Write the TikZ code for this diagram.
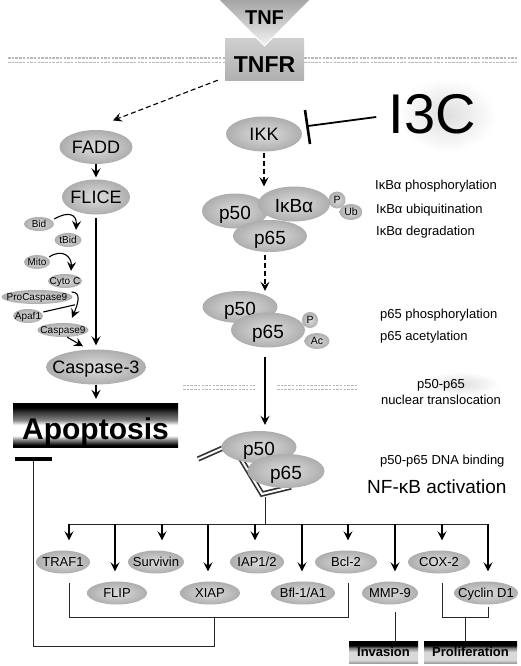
\documentclass[tikz,border=0pt]{standalone}
\usepackage{fontspec}
\setmainfont{Liberation Sans}
\usetikzlibrary{shapes.geometric,arrows.meta,calc}
\pgfdeclareradialshading{ellsh}{\pgfpoint{0bp}{0bp}}{color(0bp)=(gray!28); color(8bp)=(gray!38); color(25bp)=(gray!64); color(50bp)=(gray!64)}
\pgfdeclareverticalshading{apop}{100bp}{color(0bp)=(black); color(27bp)=(black); color(33bp)=(gray); color(38bp)=(white); color(50bp)=(white); color(56bp)=(gray); color(65bp)=(black!80); color(70bp)=(black); color(100bp)=(black)}
\pgfdeclareverticalshading{bandsh}{100bp}{color(0bp)=(gray!75); color(25bp)=(gray!75); color(32bp)=(gray!30); color(50bp)=(white!85!black); color(59bp)=(gray); color(65bp)=(black); color(100bp)=(black)}
\pgfdeclareradialshading{halo}{\pgfpoint{0bp}{0bp}}{color(0bp)=(gray!26); color(25bp)=(white); color(50bp)=(white)}
\begin{document}
\begin{tikzpicture}[x=1pt,y=-1pt,
  ell/.style={ellipse, shade, shading=ellsh, inner sep=0pt},
  bigtext/.style={font=\fontsize{18}{20}\selectfont, inner sep=0pt, text height=13pt, text depth=0pt},
  cxtext/.style={font=\fontsize{19}{21}\selectfont, inner sep=0pt, text height=13.6pt, text depth=0pt, yshift=-2pt},
  smtext/.style={font=\fontsize{10}{11}\selectfont, inner sep=0pt, text height=7.2pt, text depth=0pt},
  modtext/.style={font=\fontsize{10.5}{12}\selectfont, inner sep=0pt, text height=7.5pt, text depth=0pt},
  gentext/.style={font=\fontsize{13}{15}\selectfont, inner sep=0pt, text height=9.3pt, text depth=0pt},
  bigell/.style={ell, label={[bigtext]center:#1}},
  cxell/.style={ell, label={[cxtext]center:#1}},
  smell/.style={ell, minimum height=14pt, label={[smtext]center:#1}},
  modell/.style={ell, label={[modtext]center:#1}},
  genell/.style={ell, minimum height=23pt, label={[gentext]center:#1}},
  lab/.style={font=\fontsize{13}{15}\selectfont, anchor=west, inner sep=0pt},
  arr/.style={draw=black, line width=1.1pt, -{Stealth[length=9pt,width=9pt,inset=3.5pt]}},
  darr/.style={arr, dash pattern=on 5pt off 3pt},
  ln/.style={draw=black!85, line width=1pt},
  memb/.style={draw=gray!55, line width=1.5pt, dash pattern=on 2.5pt off 1.2pt},
  bar/.style={rectangle, shade, shading=apop, inner sep=0pt},
  band/.style={rectangle, shade, shading=bandsh, inner sep=0pt},
]
\useasboundingbox (0,0) rectangle (520,666);

% membranes
\foreach \a/\b in {8/225, 304/518} {
  \draw[memb] (\a,58) -- (\b,58);
  \draw[memb] (\a,62.5) -- (\b,62.5);
}
\foreach \a/\b in {183/255, 277/358} {
  \draw[memb] (\a,385.5) -- (\b,385.5);
  \draw[memb] (\a,389.5) -- (\b,389.5);
}

% halos
\shade[shading=halo] (398,78) rectangle (496,152);
\shade[shading=halo] (420,372) rectangle (500,396);

% TNFR and TNF
\node[rectangle, top color=gray!38, bottom color=gray!62, minimum width=79pt, minimum height=42pt, inner sep=0pt] (tnfr) at (264.5,60) {};
\node[font=\bfseries\fontsize{23}{25}\selectfont, inner sep=0pt, text height=16.5pt, text depth=0pt] (tnfrtxt) at (264.5,64) {TNFR};
\shadedraw[top color=gray!72, bottom color=gray!10, draw=white, line width=1pt] (218,-1) -- (311,-1) -- (264.5,46) -- cycle;
\node[font=\bfseries\fontsize{20}{22}\selectfont, inner sep=0pt, text height=14.3pt, text depth=0pt] (tnf) at (264.5,17) {TNF};

% IKK and I3C
\node[bigell=IKK, minimum width=76pt, minimum height=35pt] (ikk) at (264,134) {};
\node[font=\fontsize{56}{60}\selectfont, inner sep=0pt, text height=40pt, text depth=0pt] (i3c) at (432,114) {I3C};
\coordinate (inh) at (308,126);
\draw[line width=1.8pt] ($(i3c.west)+(-12,3)$) -- (inh);
\draw[line width=2.6pt] ($(inh)+(-3,-16)$) -- ($(inh)+(2,18)$);

% left cascade
\node[bigell=FADD, minimum width=73pt, minimum height=34pt] (fadd) at (96,147) {};
\node[bigell=FLICE, minimum width=68pt, minimum height=35pt] (flice) at (96,197) {};
\node[smell=Bid, minimum width=30pt] (bid) at (39,224) {};
\node[smell=tBid, minimum width=27pt] (tbid) at (68,240) {};
\node[smell=Mito, minimum width=26pt] (mito) at (37,262) {};
\node[smell=Cyto C, minimum width=34pt] (cytoc) at (65,281) {};
\node[smell=ProCaspase9, minimum width=71pt] (procasp) at (37,297) {};
\node[smell=Apaf1, minimum width=30pt] (apaf) at (28,316) {};
\node[smell=Caspase9, minimum width=51pt] (casp9) at (63,330) {};
\node[bigell=Caspase-3, minimum width=100pt, minimum height=35pt] (casp3) at (96,367) {};
\node[bar, minimum width=165pt, minimum height=44pt, label={[font=\bfseries\fontsize{30}{32}\selectfont, inner sep=0pt, text height=21.5pt, text depth=0pt, yshift=-4pt]center:Apoptosis}] (apop) at (95.5,425) {};

\draw[darr, shorten >=1pt] ($(tnfr.south west)+(-7,-1)$) -- ($(fadd.north)+(16,-9)$);
\draw[arr, shorten >=2pt] (fadd.south) -- (fadd.south |- flice.north);
\draw[arr, shorten <=3pt, shorten >=4pt] (flice.south) -- (flice.south |- casp3.north);
\draw[arr] ($(bid.east)+(0,-5)$) .. controls +(14,-8) and +(1,-16) .. ($(tbid.north)+(8,-3)$);
\draw[arr] ($(mito.east)+(-1,-5)$) .. controls +(13,-9) and +(1,-14) .. ($(cytoc.north)+(6,-3)$);
\draw[arr] ($(procasp.east)+(-1,-5)$) .. controls +(10,0) and +(6,-14) .. ($(casp9.north)+(9,-5)$);
\draw[line width=1.1pt] ($(apaf.east)+(0,-4)$) -- ($(casp9.north)+(12,-18)$);
\draw[arr] (casp9.-60) -- ($(casp3.north)+(-13,-3)$);
\draw[arr, shorten >=4pt] (casp3.south) -- (casp3.south |- apop.north);

% complex 1
\coordinate (col) at (265,0);
\node[cxell=p50, minimum width=66pt, minimum height=35pt] (p50a) at (235,211) {};
\node[cxell=IκBα, minimum width=72pt, minimum height=35pt] (ikba) at (294,204) {};
\node[cxell=p65, minimum width=74pt, minimum height=32pt] (p65a) at (270,236) {};
\node[modell=P, circle, minimum size=17pt] (pa) at (337,200) {};
\node[modell=Ub, minimum width=23pt, minimum height=16pt] (uba) at (351,212) {};
\draw[darr, shorten <=1pt] (ikk.south) -- (ikk.south |- ikba.north);
\node[lab] (l1) at (375,186) {IκBα phosphorylation};
\node[lab] (l2) at (376,210) {IκBα ubiquitination};
\node[lab] (l3) at (376,232) {IκBα degradation};

% complex 2
\node[cxell=p50, minimum width=75pt, minimum height=32pt] (p50b) at (240,307) {};
\node[cxell=p65, minimum width=74pt, minimum height=35pt] (p65b) at (268,330) {};
\node[modell=P, circle, minimum size=16pt] (pb) at (310,320) {};
\node[modell=Ac, minimum width=25pt, minimum height=16pt] (acb) at (317,341) {};
\draw[darr] ($(col |- p65a.south)+(0,3)$) -- (col |- p50b.north);
\node[lab] (l4) at (380,315) {p65 phosphorylation};
\node[lab] (l5) at (380,337) {p65 acetylation};
\node[font=\fontsize{13}{16}\selectfont, align=center, inner sep=0pt] (l6) at (441,392) {p50-p65\\nuclear translocation};

% complex 3 with DNA
\draw[black!80, line width=1.7pt, double=white, double distance=2pt] (198,459) -- (232,444) -- (262,494) -- (291,487);
\node[cxell=p50, minimum width=75pt, minimum height=32pt] (p50c) at (259,447) {};
\node[cxell=p65, minimum width=77pt, minimum height=34pt] (p65c) at (286,471) {};
\draw[arr, shorten <=9pt, shorten >=6pt] (col |- p65b.south) -- (col |- p50c.north);
\node[lab] (l7) at (380,461) {p50-p65 DNA binding};
\node[lab, font=\fontsize{19}{21}\selectfont] (l8) at (367,487) {NF-κB activation};

% target genes
\coordinate (dnaend) at (265,497);
\coordinate (br) at (265,524);
\foreach \i/\x in {1/69,2/115,3/162,4/208,5/255,6/302,7/348,8/395,9/442,10/488}
  \coordinate (b\i) at (\x,524);
\node[genell=TRAF1, minimum width=54pt] (traf1) at (63,562) {};
\node[genell=Survivin, minimum width=56pt] (surv) at (156,562) {};
\node[genell=IAP1/2, minimum width=54pt] (iap) at (257,562) {};
\node[genell=Bcl-2, minimum width=62pt] (bcl2) at (346,562) {};
\node[genell=COX-2, minimum width=62pt] (cox2) at (439,562) {};
\node[genell=FLIP, minimum width=60pt] (flip) at (117,593) {};
\node[genell=XIAP, minimum width=60pt] (xiap) at (210,593) {};
\node[genell=Bfl-1/A1, minimum width=64pt] (bfl) at (303,593) {};
\node[genell=MMP-9, minimum width=56pt] (mmp9) at (390,593) {};
\node[genell=Cyclin D1, minimum width=64pt] (cyclin) at (486,593) {};

\draw[ln] (dnaend) -- (br);
\draw[ln] (b1) -- (b10);
\foreach \i/\n in {1/traf1,2/flip,3/surv,4/xiap,5/iap,6/bfl,7/bcl2,8/mmp9,9/cox2,10/cyclin}
  \draw[arr, shorten >=10pt] (b\i) -- (b\i |- \n.north);

\node[band, minimum width=69pt, minimum height=22pt, label={[font=\bfseries\fontsize{13}{15}\selectfont, inner sep=0pt, text height=9.3pt, text depth=0pt]center:Invasion}] (inv) at (383.5,652) {};
\node[band, minimum width=93pt, minimum height=22pt, label={[font=\bfseries\fontsize{13}{15}\selectfont, inner sep=0pt, text height=9.3pt, text depth=0pt]center:Proliferation}] (prol) at (470.5,652) {};

\coordinate (brk) at (0,617);
\coordinate (lowy) at (0,646);
\coordinate (bxl) at (214,617);
\coordinate (pj) at (465,617);
\coordinate (inhx) at (33,459);
\draw[ln] ($(b1 |- traf1.south)+(0,9.5)$) -- (b1 |- brk) -- (b7 |- brk) -- ($(b7 |- bcl2.south)+(0,9.5)$);
\draw[ln] (bxl) -- (bxl |- lowy) -- (inhx |- lowy) -- (inhx);
\draw[line width=4pt] ($(inhx)+(-18,0)$) -- ($(inhx)+(19,0)$);
\draw[ln] ($(b8 |- mmp9.south)+(0,7.5)$) -- (b8 |- inv.north);
\draw[ln] ($(b9 |- cox2.south)+(0,9.5)$) -- (b9 |- brk) -- (b10 |- brk) -- ($(b10 |- cyclin.south)+(0,2.5)$);
\draw[ln] (pj) -- (pj |- prol.north);
\end{tikzpicture}
\end{document}
